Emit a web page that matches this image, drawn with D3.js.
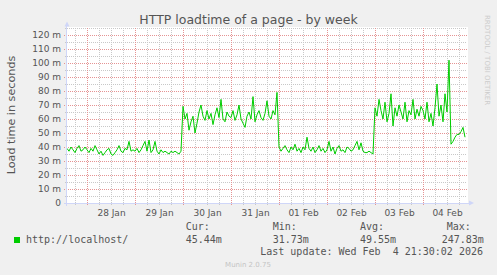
<!DOCTYPE html>
<html>
<head>
<meta charset="utf-8">
<script src="https://cdn.jsdelivr.net/npm/d3@7"></script>
<style>
  body { margin: 0; background: #F0F0F0; }
  svg { display: block; }
  text { font-family: "DejaVu Sans", sans-serif; fill: #555; }
  .mono { font-family: "DejaVu Sans Mono", monospace; font-size: 10px; white-space: pre; }
</style>
</head>
<body>
<div id="chart-area"></div>
<script>
// hourly samples, first one at 27 Jan 14:00 (values in milliseconds)
var startTime = new Date(2026, 0, 27, 14);
var endTime = new Date(2026, 1, 4, 22);

var jan27 = [39, 37, 40, 38, 36, 39, 41, 37, 38, 40];
var jan28 = [38, 36, 39, 37, 41, 38, 35, 37, 34, 36, 38, 39, 35, 34, 36, 38, 41, 37, 36, 39, 38, 44, 37, 38];
var jan29 = [37, 39, 36, 38, 41, 44, 37, 45, 36, 38, 44, 37, 35, 38, 36, 37, 36, 35, 37, 36, 37, 36, 35, 37];
var jan30 = [69, 60, 64, 52, 58, 62, 50, 57, 65, 70, 62, 59, 66, 60, 64, 56, 63, 68, 61, 74, 60, 58, 65, 62];
var jan31 = [61, 66, 59, 63, 70, 60, 57, 54, 62, 65, 60, 76, 58, 63, 66, 61, 59, 64, 73, 62, 60, 66, 63, 79];
var feb01 = [40, 37, 39, 41, 38, 36, 40, 38, 42, 37, 39, 36, 40, 38, 47, 39, 37, 40, 36, 38, 41, 37, 39, 36];
var feb02 = [38, 44, 37, 40, 35, 39, 41, 37, 38, 36, 40, 39, 37, 38, 41, 44, 38, 43, 37, 36, 36, 37, 36, 35];
var feb03 = [68, 62, 74, 66, 60, 72, 58, 64, 78, 55, 68, 62, 70, 65, 60, 72, 58, 66, 63, 74, 60, 67, 62, 69];
var feb04 = [66, 60, 72, 58, 64, 55, 68, 85, 62, 70, 58, 78, 65, 102, 42, 44, 47, 49, 49, 51, 54, 47];

var yTicks = [0, 10, 20, 30, 40, 50, 60, 70, 80, 90, 100, 110, 120];
var yMinorTicks = [5, 15, 25, 35, 45, 55, 65, 75, 85, 95, 105, 115, 125];

var seriesName = "http://localhost/";
var legendLabels = ["Cur:", "Min:", "Avg:", "Max:"];
var legendValues = ["45.44m", "31.73m", "49.55m", "247.83m"];
var lastUpdate = "Last update: Wed Feb  4 21:30:02 2026";

var loadTimes = [].concat(jan27, jan28, jan29, jan30, jan31, feb01, feb02, feb03, feb04);
var data = loadTimes.map(function(v, i) {
    return { t: d3.timeHour.offset(startTime, i), v: v };
});

// plot area, in pixels of the 497x275 image
var plotLeft = 67, plotRight = 467, plotTop = 28, plotBottom = 203;

var svg = d3.select("#chart-area")
    .append("svg")
        .attr("width", 497)
        .attr("height", 275);

svg.append("rect")
    .attr("width", 497).attr("height", 275)
    .attr("fill", "#F0F0F0");

var x = d3.scaleTime()
    .domain([startTime, endTime])
    .range([plotLeft, plotRight]);

var y = d3.scaleLinear()
    .domain([0, 125])
    .range([plotBottom, plotTop]);

// white canvas
svg.append("rect")
    .attr("x", plotLeft).attr("y", plotTop - 1)
    .attr("width", plotRight - plotLeft + 1).attr("height", plotBottom - plotTop + 1)
    .attr("fill", "#fff");

var minorColor = "#C8C8C8", majorColor = "#E59393";

// minor grid
var sixHours = d3.timeHour.every(6).range(startTime, endTime)
    .filter(function(d) { return d.getHours() !== 0; });

svg.append("g").selectAll("line")
    .data(sixHours)
    .enter().append("line")
        .attr("x1", function(d) { return Math.round(x(d)) + 0.5; })
        .attr("x2", function(d) { return Math.round(x(d)) + 0.5; })
        .attr("y1", plotTop)
        .attr("y2", plotBottom + 2)
        .attr("stroke", minorColor)
        .attr("stroke-dasharray", "1,1");

svg.append("g").selectAll("line")
    .data(yMinorTicks)
    .enter().append("line")
        .attr("x1", plotLeft - 2)
        .attr("x2", plotRight)
        .attr("y1", function(d) { return Math.round(y(d)) + 0.5; })
        .attr("y2", function(d) { return Math.round(y(d)) + 0.5; })
        .attr("stroke", minorColor)
        .attr("stroke-dasharray", "1,1");

// major grid
var days = d3.timeDay.range(startTime, endTime);

svg.append("g").selectAll("line")
    .data(days)
    .enter().append("line")
        .attr("x1", function(d) { return Math.round(x(d)) + 0.5; })
        .attr("x2", function(d) { return Math.round(x(d)) + 0.5; })
        .attr("y1", plotTop)
        .attr("y2", plotBottom + 3)
        .attr("stroke", majorColor)
        .attr("stroke-dasharray", "1,1");

svg.append("g").selectAll("line")
    .data(yTicks.slice(1))
    .enter().append("line")
        .attr("x1", plotLeft - 3)
        .attr("x2", plotRight)
        .attr("y1", function(d) { return Math.round(y(d)) + 0.5; })
        .attr("y2", function(d) { return Math.round(y(d)) + 0.5; })
        .attr("stroke", majorColor)
        .attr("stroke-dasharray", "1,1");

// axis labels
var yAxisCall = d3.axisLeft(y)
    .tickValues(yTicks)
    .tickSize(0)
    .tickPadding(6)
    .tickFormat(function(d) { return d === 0 ? "0" : d + " m"; });

var yAxis = svg.append("g")
    .attr("transform", "translate(" + plotLeft + ",0)")
    .call(yAxisCall);
yAxis.select(".domain").remove();
yAxis.selectAll("text")
    .attr("fill", "#555")
    .style("font-size", "9px")
    .style("font-family", "DejaVu Sans");

var noons = days.map(function(d) { return d3.timeHour.offset(d, 12); })
    .filter(function(d) { return d > startTime && d < endTime; });

var xAxisCall = d3.axisBottom(x)
    .tickValues(noons)
    .tickSize(0)
    .tickPadding(7)
    .tickFormat(d3.timeFormat("%d %b"));

var xAxis = svg.append("g")
    .attr("transform", "translate(0," + plotBottom + ")")
    .call(xAxisCall);
xAxis.select(".domain").remove();
xAxis.selectAll("text")
    .attr("fill", "#555")
    .style("font-size", "9px")
    .style("font-family", "DejaVu Sans");

// the data line
var line = d3.line()
    .x(function(d) { return x(d.t); })
    .y(function(d) { return y(d.v); });

svg.append("path")
    .datum(data)
    .attr("d", line)
    .attr("fill", "none")
    .attr("stroke", "#00CC00")
    .attr("stroke-width", 1);

// axes with arrows
var axisColor = "#CFD6F8";
svg.append("line")
    .attr("x1", plotLeft - 0.5).attr("x2", plotLeft - 0.5)
    .attr("y1", plotBottom + 3).attr("y2", plotTop - 2)
    .attr("stroke", axisColor);
svg.append("line")
    .attr("x1", plotLeft - 3).attr("x2", plotRight + 3)
    .attr("y1", plotBottom + 0.5).attr("y2", plotBottom + 0.5)
    .attr("stroke", axisColor);
svg.append("path")
    .attr("d", "M64.5,26.5L69.5,26.5L67,21.5Z")
    .attr("fill", axisColor);
svg.append("path")
    .attr("d", "M469,200.5L469,205.5L474,203Z")
    .attr("fill", axisColor);

// titles
svg.append("text")
    .attr("x", 248.5).attr("y", 24)
    .attr("text-anchor", "middle")
    .style("font-size", "12.5px")
    .text("HTTP loadtime of a page - by week");

svg.append("text")
    .attr("transform", "translate(15,115) rotate(-90)")
    .attr("text-anchor", "middle")
    .style("font-size", "11.2px")
    .text("Load time in seconds");

svg.append("text")
    .attr("transform", "translate(485,15) rotate(90)")
    .style("fill", "#ccc")
    .style("font-size", "7px")
    .text("RRDTOOL / TOBI OETIKER");

// legend
svg.append("rect")
    .attr("x", 14).attr("y", 237)
    .attr("width", 6).attr("height", 6)
    .attr("fill", "#00CC00");

svg.append("text")
    .attr("class", "mono")
    .attr("x", 26).attr("y", 243)
    .text(seriesName);

var colX = [185.7, 272.7, 360, 446.7];
var valX = [185.7, 272.7, 360, 441.7];

svg.append("g").selectAll("text")
    .data(legendLabels)
    .enter().append("text")
        .attr("class", "mono")
        .attr("x", function(d, i) { return colX[i]; })
        .attr("y", 230)
        .text(function(d) { return d; });

svg.append("g").selectAll("text")
    .data(legendValues)
    .enter().append("text")
        .attr("class", "mono")
        .attr("x", function(d, i) { return valX[i]; })
        .attr("y", 243)
        .text(function(d) { return d; });

svg.append("text")
    .attr("class", "mono")
    .attr("x", 483).attr("y", 255)
    .attr("text-anchor", "end")
    .text(lastUpdate);

svg.append("text")
    .attr("x", 248).attr("y", 266.5)
    .attr("text-anchor", "middle")
    .style("fill", "#c4c4c4")
    .style("font-size", "7px")
    .text("Munin 2.0.75");
</script>
</body>
</html>
